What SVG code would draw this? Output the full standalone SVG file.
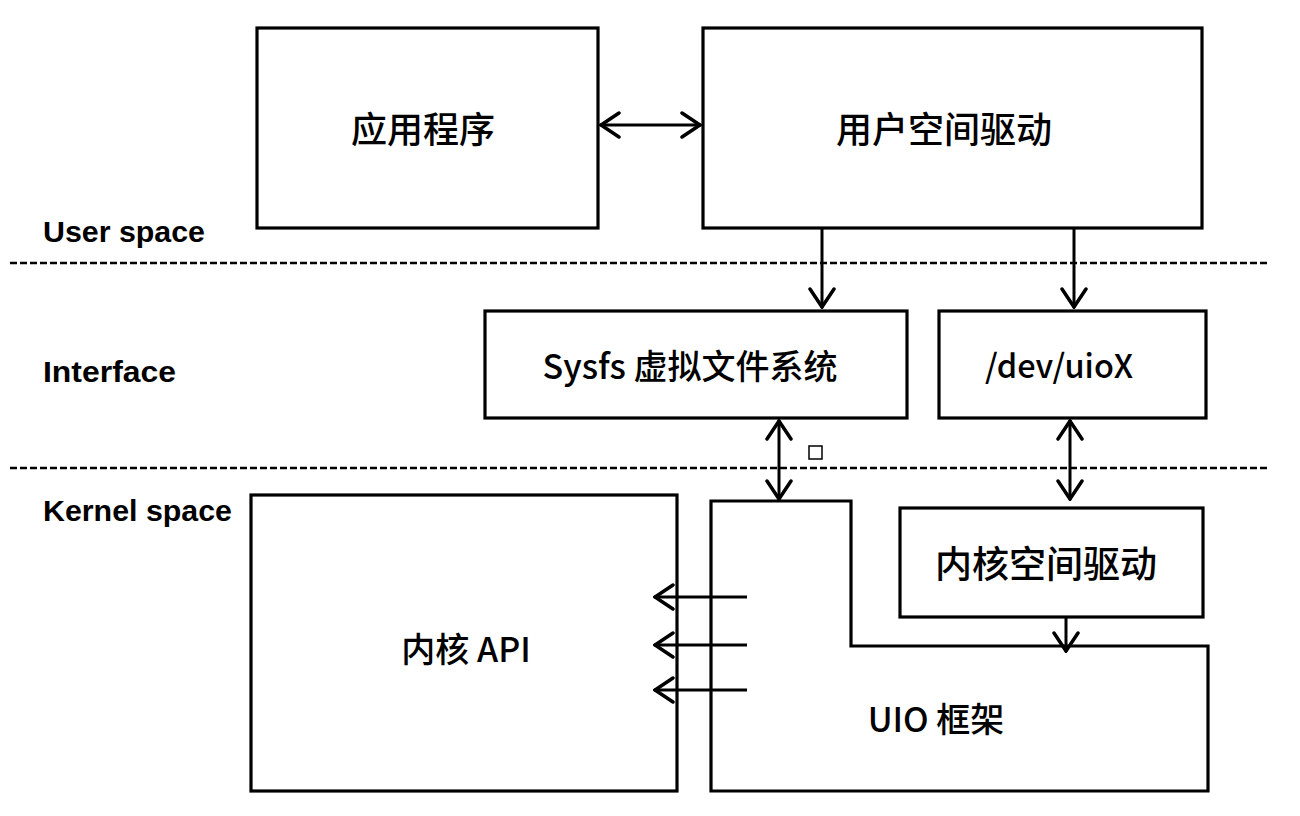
<svg xmlns="http://www.w3.org/2000/svg" width="1300" height="816" viewBox="0 0 1300 816">
<defs>
<style>
.box{fill:none;stroke:#000;stroke-width:3.2}
.cn{font-family:"Noto Sans CJK SC","Noto Sans",sans-serif;fill:#000;text-anchor:middle;dominant-baseline:central;font-weight:500}
.lab{font-family:"Liberation Sans","Noto Sans",sans-serif;fill:#000;font-size:30px;font-weight:bold}
.ln{fill:none;stroke:#000;stroke-width:3}
.dash{fill:none;stroke:#000;stroke-width:2.5;stroke-dasharray:7 3}
</style>
<marker id="ah" viewBox="0 0 22 28" refX="21" refY="14" markerWidth="22" markerHeight="28" markerUnits="userSpaceOnUse" orient="auto-start-reverse">
<path d="M2,2 L20,14 L2,26" fill="none" stroke="#000" stroke-width="3.5" stroke-linecap="round"/>
</marker>
</defs>
<rect width="1300" height="816" fill="#fff"/>

<g id="layers">
<line class="dash" x1="10" y1="263" x2="1268" y2="263"/>
<line class="dash" x1="10" y1="468" x2="1268" y2="468"/>
<text class="lab" x="43" y="242" textLength="162" lengthAdjust="spacingAndGlyphs">User space</text>
<text class="lab" x="43" y="382" textLength="133" lengthAdjust="spacingAndGlyphs">Interface</text>
<text class="lab" x="43" y="521" textLength="189" lengthAdjust="spacingAndGlyphs">Kernel space</text>
</g>

<g id="app">
<rect class="box" x="257" y="28" width="341" height="200"/>
<text class="cn" x="423" y="127" font-size="36">应用程序</text>
</g>

<g id="user-driver">
<rect class="box" x="703" y="28" width="499" height="200"/>
<text class="cn" x="944" y="127" font-size="36">用户空间驱动</text>
</g>

<g id="sysfs">
<rect class="box" x="485" y="311" width="422" height="107"/>
<text class="cn" x="690" y="364" font-size="34">Sysfs 虚拟文件系统</text>
</g>

<g id="devuio">
<rect class="box" x="939" y="311" width="267" height="107"/>
<text class="cn" x="1059" y="364" font-size="33" textLength="148" lengthAdjust="spacingAndGlyphs">/dev/uioX</text>
</g>

<g id="kernel-api">
<rect class="box" x="251" y="495" width="426" height="296"/>
<text class="cn" x="466" y="647" font-size="34">内核 API</text>
</g>

<g id="uio">
<path class="box" d="M711,501 L851,501 L851,646 L1208,646 L1208,791 L711,791 Z"/>
<text class="cn" x="936" y="717" font-size="34">UIO 框架</text>
</g>

<g id="kernel-driver">
<rect class="box" x="900" y="508" width="303" height="109"/>
<text class="cn" x="1046" y="562" font-size="37">内核空间驱动</text>
</g>

<g id="mark">
<rect x="809" y="446" width="13" height="13" fill="none" stroke="#000" stroke-width="1.5"/>
</g>

<g id="connectors">
<line class="ln" x1="600" y1="125" x2="701" y2="125" marker-start="url(#ah)" marker-end="url(#ah)"/>
<line class="ln" x1="822" y1="229" x2="822" y2="308" marker-end="url(#ah)"/>
<line class="ln" x1="1074" y1="229" x2="1074" y2="308" marker-end="url(#ah)"/>
<line class="ln" x1="779" y1="420" x2="779" y2="500" marker-start="url(#ah)" marker-end="url(#ah)"/>
<line class="ln" x1="1070" y1="420" x2="1070" y2="500" marker-start="url(#ah)" marker-end="url(#ah)"/>
<line class="ln" x1="1066" y1="618" x2="1066" y2="652" marker-end="url(#ah)"/>
<line class="ln" x1="747" y1="597" x2="654" y2="597" marker-end="url(#ah)"/>
<line class="ln" x1="747" y1="645" x2="654" y2="645" marker-end="url(#ah)"/>
<line class="ln" x1="747" y1="690" x2="654" y2="690" marker-end="url(#ah)"/>
</g>
</svg>
